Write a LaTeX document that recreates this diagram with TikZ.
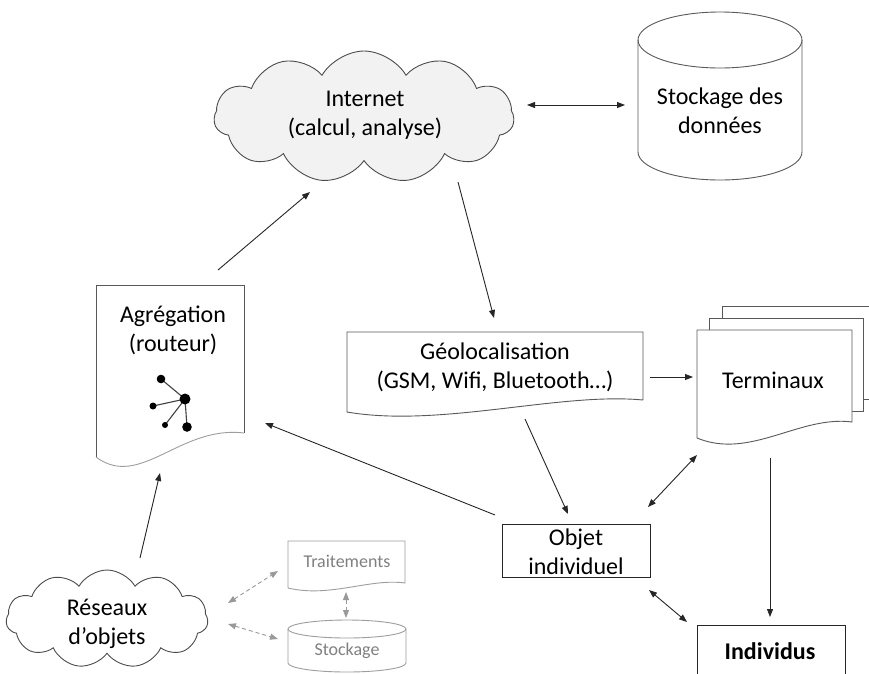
\documentclass[tikz,border=0pt]{standalone}
\usepackage{fontspec}
\setmainfont{Carlito}
\usetikzlibrary{shapes.symbols,arrows.meta}
\tikzset{
  txt/.style={font=\fontsize{24}{29}\selectfont, align=center, inner sep=0pt, text=black},
  gtxt/.style={font=\fontsize{18}{22}\selectfont, align=center, inner sep=0pt, text=black!50},
  tip/.tip={Stealth[length=8pt,width=6pt,inset=0pt]},
  conn/.style={draw=black!85, line width=0.9pt, -tip},
  dconn/.style={draw=black!85, line width=0.9pt, tip-tip},
  gconn/.style={draw=black!40, line width=0.9pt, dash pattern=on 4pt off 3pt, tip-tip},
  outline/.style={draw=black!65, line width=0.9pt},
  grayline/.style={draw=black!38, line width=0.9pt},
  cloudbox/.style={cloud, cloud puffs=11, cloud puff arc=120, cloud ignores aspect, draw=black!70, line width=0.9pt, inner sep=0pt},
  net/.style={draw=black!75, line width=1.1pt},
}
\begin{document}
\begin{tikzpicture}[x=1pt,y=-1pt]
\useasboundingbox (0,0) rectangle (869,673);
\fill[white] (0,0) rectangle (869,673);
\clip (0,0) rectangle (869,673);

% Internet cloud
\node[cloudbox, fill=black!5, minimum width=300pt, minimum height=132pt] (internetCloud) at (364,117) {};
\node[txt] (internetText) at (365,115) {Internet\\(calcul, analyse)};

% Storage cylinder
\draw[outline, fill=white] (638,40) -- (638,152) arc[start angle=180, end angle=360, x radius=82pt, y radius=28pt] -- (802,40);
\draw[outline] (720,40) ellipse[x radius=82pt, y radius=28pt];
\node[txt] (storeText) at (720,111) {Stockage des\\données};

% Agregation document
\draw[outline, fill=white] (96,457) -- (96,285) -- (244,285) -- (244,433);
\draw[grayline] (244,433) .. controls (180,425) and (140,490) .. (96,457);
\node[txt] (aggText) at (173,330) {Agrégation\\(routeur)};
\coordinate (hub) at (185,399);
\coordinate (n1) at (161,379);
\coordinate (n2) at (153,406);
\coordinate (n3) at (165,425);
\coordinate (n4) at (187,427);
\draw[net] (hub) -- (n1) (hub) -- (n2) (hub) -- (n3) (hub) -- (n4);
\fill (hub) circle (5.5pt);
\fill (n1) circle (4.3pt);
\fill (n2) circle (3.5pt);
\fill (n3) circle (3pt);
\fill (n4) circle (4.8pt);

% Geolocalisation document
\draw[outline, fill=white] (643,400) -- (643,332) -- (347,332) -- (347,412) .. controls (440,428) and (560,392) .. (643,400);
\node[txt] (geoText) at (495,367) {Géolocalisation\\(GSM, Wifi, Bluetooth…)};

% Terminaux stacked documents
\draw[outline, fill=white] (722,306) rectangle (885,399);
\draw[outline, fill=white] (709,318) rectangle (863,411);
\draw[outline, fill=white] (697,438) -- (697,330) -- (852,330) -- (852,422) .. controls (800,415) and (750,460) .. (697,438);
\node[txt] (termText) at (773,380) {Terminaux};

% Objet individuel
\node[draw=black!85, line width=0.9pt, minimum width=148pt, minimum height=53pt, inner sep=0pt] (objetBox) at (576,550.5) {};
\node[txt] (objetText) at (576,552) {Objet\\individuel};

% Individus
\draw[draw=black!85, line width=0.9pt] (697,700) -- (697,625) -- (845,625) -- (845,700);
\node[txt, font=\fontsize{24}{29}\selectfont\bfseries] (indText) at (770,651) {Individus};

% Reseaux d'objets cloud
\node[cloudbox, fill=white, minimum width=202pt, minimum height=98pt] (resCloud) at (107,619) {};
\node[txt] (resText) at (107,624) {Réseaux\\d’objets};

% Traitements (gray document)
\draw[grayline, fill=white] (288,588) -- (288,541) -- (405,541) -- (405,583) .. controls (370,578) and (330,598) .. (288,588);
\node[gtxt] (traitText) at (347,561) {Traitements};

% Stockage (gray cylinder)
\draw[grayline, fill=white] (288,629) -- (288,663) arc[start angle=180, end angle=360, x radius=59pt, y radius=9pt] -- (406,629);
\draw[grayline] (347,629) ellipse[x radius=59pt, y radius=9pt];
\node[gtxt] (stockText) at (347,651) {Stockage};

% connector end points
\coordinate (aggOut) at (218,270);
\coordinate (cloudIn) at (310,192);
\coordinate (cloudOut) at (458,182);
\coordinate (geoIn) at (494,318);
\coordinate (cloudRight) at (527,105);
\coordinate (storeLeft) at (625,105);
\coordinate (geoRight) at (650,377);
\coordinate (termLeft) at (693,377);
\coordinate (termBottom) at (770,458);
\coordinate (indTop) at (770,617);
\coordinate (objetNE) at (648,507);
\coordinate (termSW) at (697,455);
\coordinate (geoBottom) at (525,419);
\coordinate (objetTop) at (568,514);
\coordinate (objetNW) at (495,515);
\coordinate (aggRight) at (265,423);
\coordinate (objetSE) at (649,590);
\coordinate (indNW) at (687,622);
\coordinate (resTop) at (140,558);
\coordinate (aggBottom) at (160,473);
\coordinate (resRight1) at (228,603);
\coordinate (traitLeft) at (278,571);
\coordinate (resRight2) at (228,624);
\coordinate (stockLeft) at (278,639);
\coordinate (traitBottom) at (346,592);
\coordinate (stockTop) at (346,618);

\draw[conn] (aggOut) -- (cloudIn);
\draw[conn] (cloudOut) -- (geoIn);
\draw[dconn] (cloudRight) -- (storeLeft);
\draw[conn] (geoRight) -- (termLeft);
\draw[conn] (termBottom) -- (indTop);
\draw[dconn] (objetNE) -- (termSW);
\draw[conn] (geoBottom) -- (objetTop);
\draw[conn] (objetNW) -- (aggRight);
\draw[dconn] (objetSE) -- (indNW);
\draw[conn] (resTop) -- (aggBottom);
\draw[gconn] (resRight1) -- (traitLeft);
\draw[gconn] (resRight2) -- (stockLeft);
\draw[gconn] (traitBottom) -- (stockTop);
\end{tikzpicture}
\end{document}
